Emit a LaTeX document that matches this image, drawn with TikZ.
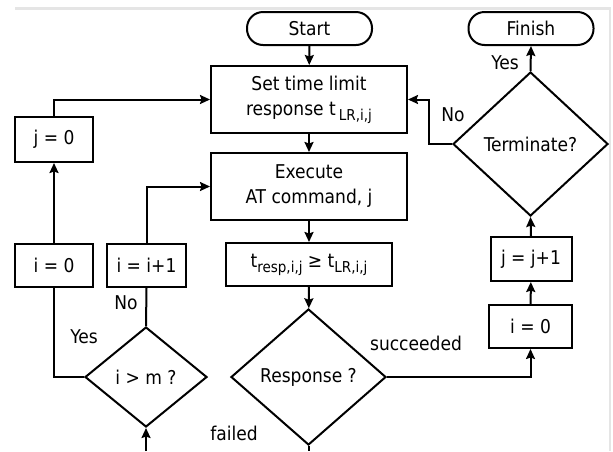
\documentclass[tikz,border=0pt]{standalone}
\usepackage{fontspec}
\setmainfont{DejaVu Sans Condensed}
\usetikzlibrary{shapes.geometric,arrows.meta}
% lowered, smaller index text
\newcommand\subidx[1]{\raisebox{-5pt}{\fontsize{15}{15}\selectfont #1}}
\begin{document}
\begin{tikzpicture}[x=1pt,y=-1pt,
  every node/.style={font=\fontsize{19}{25}\selectfont},
  box/.style={draw,line width=2pt,inner sep=0pt,align=center},
  pill/.style={box,rounded corners=16pt,minimum width=125pt,minimum height=33pt},
  decision/.style={draw,line width=2pt,diamond,inner sep=0pt,align=center},
  flow/.style={line width=2pt,-{Stealth[length=10pt,width=9pt,inset=1.5pt]}},
  link/.style={line width=2pt},
  lbl/.style={inner sep=0pt},
  frame/.style={fill=black!10,draw=none}]
\useasboundingbox (0,0) rectangle (613,451);
% light frame along the top and right edges
\fill[frame] (15,6.5) rectangle (611,10);
\fill[frame] (608.5,6.5) rectangle (611,451);

% terminators
\node[pill] (start) at (309.5,28.5) {Start};
\node[pill] (finish) at (531,28.5) {Finish};

% main column
\node[box,minimum width=196pt,minimum height=67pt] (settime) at (309,99.5)
  {Set time limit\\response t\,\subidx{LR,i,j}};
\node[box,minimum width=196pt,minimum height=67pt] (execute) at (309,186.5)
  {Execute\\AT command, j};
\node[box,minimum width=166pt,minimum height=43pt] (tresp) at (309,264.5)
  {t\subidx{resp,i,j} ≥ t\subidx{LR,i,j}};
\node[decision,minimum width=155pt,minimum height=136pt] (response) at (308.5,377)
  {Response ?};

% retry loop on the left
\node[decision,minimum width=122pt,minimum height=100pt] (igtm) at (146,377) {i > m ?};
\node[box,minimum width=78pt,minimum height=43pt] (izero) at (54,265.5) {i = 0};
\node[box,minimum width=79pt,minimum height=43pt] (iinc) at (146.5,265.5) {i = i+1};
\node[box,minimum width=78pt,minimum height=45pt] (jzero) at (54,139.5) {j = 0};

% success path on the right
\node[box,minimum width=83pt,minimum height=43pt] (izeroR) at (530.5,326.5) {i = 0};
\node[box,minimum width=81pt,minimum height=44pt] (jinc) at (531,259) {j = j+1};
\node[decision,minimum width=155pt,minimum height=144pt] (term) at (530.5,144) {Terminate?};

% loose ends leaving the lower edge
\coordinate (respout) at (308.5,451);
\coordinate (failin) at (146,451);
\coordinate (noturn) at (429,144);

% connectors
\draw[flow] (start) -- (settime);
\draw[flow] (settime) -- (execute);
\draw[flow] (execute) -- (tresp);
\draw[flow] (tresp) -- (response);
\draw[link] (response.south) -- (respout);
\draw[flow] (failin) -- (igtm.south);
\draw[link] (igtm.north) -- (iinc.south);
\draw[link] (igtm.west) -| (izero.south);
\draw[flow] (izero) -- (jzero);
\draw[flow] (jzero.north) |- (settime.west);
\draw[flow] (iinc.north) |- (execute.west);
\draw[flow] (response.east) -| (izeroR.south);
\draw[flow] (izeroR) -- (jinc);
\draw[flow] (jinc.north) -- (term.south);
\draw[flow] (term.north) -- (finish.south);
\draw[flow] (term.west) -- (noturn) |- (settime.east);

% branch labels
\node[lbl] (lfailed) at (234,433) {failed};
\node[lbl] (lno1) at (126,303) {No};
\node[lbl] (lyes1) at (84,337) {Yes};
\node[lbl] (lsucc) at (416,343) {succeeded};
\node[lbl] (lyes2) at (505,63) {Yes};
\node[lbl] (lno2) at (453,115) {No};
\end{tikzpicture}
\end{document}
